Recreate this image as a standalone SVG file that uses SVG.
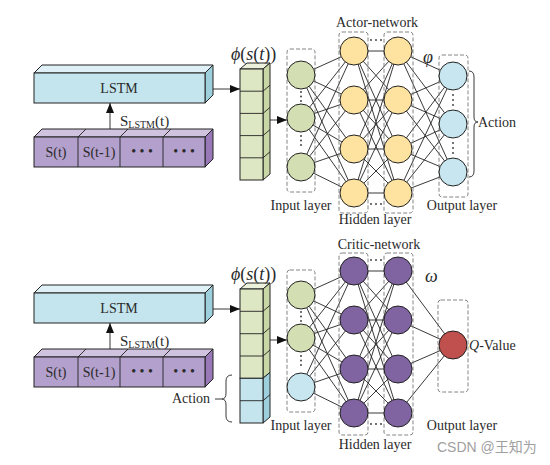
<svg xmlns="http://www.w3.org/2000/svg" width="550" height="465" viewBox="0 0 550 465">
<defs>
<marker id="arr" markerWidth="10" markerHeight="8" refX="10" refY="4" orient="auto" markerUnits="userSpaceOnUse">
<path d="M0,0 L10,4 L0,8 Z" fill="#111"/>
</marker>
<style>
text{font-family:"Liberation Serif","Times New Roman",serif;fill:#2a2a2a}
.lbl{font-size:14px}
.edge{stroke:#222;stroke-width:0.9;fill:none}
.dash{fill:none;stroke:#777;stroke-width:0.9;stroke-dasharray:4,2}
.bx{stroke:#222;stroke-width:1}
.n{stroke:#222;stroke-width:1}
.g{fill:#D3DFB3}.y{fill:#FEE3A0}.b{fill:#C7E6EF}.p{fill:#8064A2}.r{fill:#C0504D}
.dot{fill:#333}
</style>
</defs>

<!-- connectors -->
<g id="connectors">
<path class="edge" d="M205,89 L240,89" marker-end="url(#arr)"/>
<path class="edge" d="M270,120 L287,120" marker-end="url(#arr)"/>
<path class="edge" d="M110,129 L110,103" marker-end="url(#arr)"/>
<path class="edge" d="M205,309 L240,309" marker-end="url(#arr)"/>
<path class="edge" d="M270,340 L287,340" marker-end="url(#arr)"/>
<path class="edge" d="M110,349 L110,323" marker-end="url(#arr)"/>
<!-- actor: input -> hidden1 -->
<path class="edge" d="M301,75L354,51M301,75L354,100M301,75L354,149M301,75L354,193M301,118L354,51M301,118L354,100M301,118L354,149M301,118L354,193M301,167L354,51M301,167L354,100M301,167L354,149M301,167L354,193"/>
<!-- actor: hidden1 -> hidden2 -->
<path class="edge" d="M354,51L398,51M354,51L398,100M354,51L398,149M354,51L398,193M354,100L398,51M354,100L398,100M354,100L398,149M354,100L398,193M354,149L398,51M354,149L398,100M354,149L398,149M354,149L398,193M354,193L398,51M354,193L398,100M354,193L398,149M354,193L398,193"/>
<!-- actor: hidden2 -> output -->
<path class="edge" d="M398,51L453,76M398,51L453,124M398,51L453,172M398,100L453,76M398,100L453,124M398,100L453,172M398,149L453,76M398,149L453,124M398,149L453,172M398,193L453,76M398,193L453,124M398,193L453,172"/>
<!-- critic: input -> hidden1 -->
<path class="edge" d="M301,295L354,271M301,295L354,320M301,295L354,369M301,295L354,413M301,338L354,271M301,338L354,320M301,338L354,369M301,338L354,413M301,387L354,271M301,387L354,320M301,387L354,369M301,387L354,413"/>
<!-- critic: hidden1 -> hidden2 -->
<path class="edge" d="M354,271L398,271M354,271L398,320M354,271L398,369M354,271L398,413M354,320L398,271M354,320L398,320M354,320L398,369M354,320L398,413M354,369L398,271M354,369L398,320M354,369L398,369M354,369L398,413M354,413L398,271M354,413L398,320M354,413L398,369M354,413L398,413"/>
<!-- critic: hidden2 -> output -->
<path class="edge" d="M398,271L453,345M398,320L453,345M398,369L453,345M398,413L453,345"/>
</g>

<!-- top LSTM block -->
<g id="lstm-actor">
<polygon class="bx" points="34,73 42,65 213,65 205,73" fill="#DFF1F6"/>
<polygon class="bx" points="205,73 213,65 213,95 205,103" fill="#9ECFDC"/>
<rect class="bx" x="34" y="73" width="171" height="30" fill="#C5E5EE"/>
<text class="lbl" x="119" y="93" text-anchor="middle">LSTM</text>
</g>
<g id="seq-actor">
<polygon class="bx" points="34,137 42,129 213,129 205,137" fill="#CFC3E0"/>
<polygon class="bx" points="205,137 213,129 213,159 205,167" fill="#9878B6"/>
<rect class="bx" x="34" y="137" width="171" height="30" fill="#B3A0CC"/>
<path class="edge" d="M78,137V167M120,137V167M163,137V167M78,137L86,129M120,137L128,129M163,137L171,129"/>
<text class="lbl" x="56" y="157" text-anchor="middle">S(t)</text>
<text class="lbl" x="99" y="157" text-anchor="middle">S(t-1)</text>
<text class="lbl" x="142" y="156" text-anchor="middle">• • •</text>
<text class="lbl" x="184" y="156" text-anchor="middle">• • •</text>
<text x="120" y="126" font-size="15">S<tspan font-size="10" dy="2">LSTM</tspan><tspan dy="-2">(t)</tspan></text>
</g>
<g id="phi-actor">
<polygon class="bx" points="240,69 247,63 270,63 263,69" fill="#ECF1DC"/>
<polygon class="bx" points="263,69 270,63 270,174 263,180" fill="#C9D7A6"/>
<rect class="bx" x="240" y="69" width="23" height="111" fill="#DEE7C4"/>
<path class="edge" d="M240,91.2H263L270,85.2M240,113.4H263L270,107.4M240,135.6H263L270,129.6M240,157.8H263L270,151.8"/>
<text x="231" y="60" font-size="18"><tspan font-style="italic">ϕ</tspan>(<tspan font-style="italic">s</tspan>(<tspan font-style="italic">t</tspan>))</text>
</g>

<!-- actor network -->
<g id="actor-input">
<rect class="dash" x="287" y="49" width="28" height="143" rx="3"/>
<circle class="n g" cx="301" cy="75" r="14"/>
<circle class="n g" cx="301" cy="118" r="14"/>
<circle class="n g" cx="301" cy="167" r="14"/>
<circle class="dot" cx="301" cy="92" r="0.9"/><circle class="dot" cx="301" cy="96.5" r="0.9"/><circle class="dot" cx="301" cy="101" r="0.9"/>
<circle class="dot" cx="301" cy="136" r="0.9"/><circle class="dot" cx="301" cy="140.5" r="0.9"/><circle class="dot" cx="301" cy="145" r="0.9"/>
<text class="lbl" x="301" y="210" text-anchor="middle">Input layer</text>
</g>
<g id="actor-hidden1">
<rect class="dash" x="339" y="32" width="29" height="181" rx="3"/>
<circle class="n y" cx="354" cy="51" r="14"/>
<circle class="n y" cx="354" cy="100" r="14"/>
<circle class="n y" cx="354" cy="149" r="14"/>
<circle class="n y" cx="354" cy="193" r="14"/>
</g>
<g id="actor-hidden2">
<rect class="dash" x="384" y="32" width="29" height="181" rx="3"/>
<circle class="n y" cx="398" cy="51" r="14"/>
<circle class="n y" cx="398" cy="100" r="14"/>
<circle class="n y" cx="398" cy="149" r="14"/>
<circle class="n y" cx="398" cy="193" r="14"/>
<circle class="dot" cx="371" cy="40" r="0.9"/><circle class="dot" cx="376" cy="40" r="0.9"/><circle class="dot" cx="381" cy="40" r="0.9"/>
<circle class="dot" cx="371" cy="204" r="0.9"/><circle class="dot" cx="376" cy="204" r="0.9"/><circle class="dot" cx="381" cy="204" r="0.9"/>
<text class="lbl" x="377" y="27" text-anchor="middle">Actor-network</text>
<text class="lbl" x="375" y="224" text-anchor="middle">Hidden layer</text>
</g>
<g id="actor-output">
<rect class="dash" x="439" y="55" width="29" height="142" rx="3"/>
<circle class="n b" cx="453" cy="76" r="14"/>
<circle class="n b" cx="453" cy="124" r="14"/>
<circle class="n b" cx="453" cy="172" r="14"/>
<circle class="dot" cx="453" cy="95" r="0.9"/><circle class="dot" cx="453" cy="100" r="0.9"/><circle class="dot" cx="453" cy="105" r="0.9"/>
<circle class="dot" cx="453" cy="143" r="0.9"/><circle class="dot" cx="453" cy="148" r="0.9"/><circle class="dot" cx="453" cy="153" r="0.9"/>
<path class="edge" d="M469,71 Q474,71 474,77 L474,117 Q474,122 478,122 Q474,122 474,127 L474,171 Q474,177 469,177"/>
<text class="lbl" x="478" y="127">Action</text>
<text x="423" y="63" font-size="18" font-style="italic">φ</text>
<text class="lbl" x="462" y="210" text-anchor="middle">Output layer</text>
</g>

<!-- bottom LSTM block -->
<g id="lstm-critic">
<polygon class="bx" points="34,293 42,285 213,285 205,293" fill="#DFF1F6"/>
<polygon class="bx" points="205,293 213,285 213,315 205,323" fill="#9ECFDC"/>
<rect class="bx" x="34" y="293" width="171" height="30" fill="#C5E5EE"/>
<text class="lbl" x="119" y="313" text-anchor="middle">LSTM</text>
</g>
<g id="seq-critic">
<polygon class="bx" points="34,357 42,349 213,349 205,357" fill="#CFC3E0"/>
<polygon class="bx" points="205,357 213,349 213,379 205,387" fill="#9878B6"/>
<rect class="bx" x="34" y="357" width="171" height="30" fill="#B3A0CC"/>
<path class="edge" d="M78,357V387M120,357V387M163,357V387M78,357L86,349M120,357L128,349M163,357L171,349"/>
<text class="lbl" x="56" y="377" text-anchor="middle">S(t)</text>
<text class="lbl" x="99" y="377" text-anchor="middle">S(t-1)</text>
<text class="lbl" x="142" y="376" text-anchor="middle">• • •</text>
<text class="lbl" x="184" y="376" text-anchor="middle">• • •</text>
<text x="120" y="346" font-size="15">S<tspan font-size="10" dy="2">LSTM</tspan><tspan dy="-2">(t)</tspan></text>
</g>
<g id="phi-critic">
<polygon class="bx" points="240,289 247,283 270,283 263,289" fill="#ECF1DC"/>
<polygon class="bx" points="263,289 270,283 270,372.3 263,378.3" fill="#C9D7A6"/>
<polygon class="bx" points="263,378.3 270,372.3 270,417 263,423" fill="#9ECFDC"/>
<rect class="bx" x="240" y="289" width="23" height="89.3" fill="#DEE7C4"/>
<rect class="bx" x="240" y="378.3" width="23" height="44.7" fill="#C5E5EE"/>
<path class="edge" d="M240,311.3H263L270,305.3M240,333.7H263L270,327.7M240,356H263L270,350M240,400.7H263L270,394.7"/>
<text x="231" y="280" font-size="18"><tspan font-style="italic">ϕ</tspan>(<tspan font-style="italic">s</tspan>(<tspan font-style="italic">t</tspan>))</text>
<path class="edge" d="M232,375 Q226,375 226,381 L226,393 Q226,399 222,399 Q226,399 226,405 L226,416 Q226,422 232,422"/>
<path class="edge" d="M215,399H222"/>
<text class="lbl" x="172" y="403">Action</text>
</g>

<!-- critic network -->
<g id="critic-input">
<rect class="dash" x="287" y="270" width="28" height="142" rx="3"/>
<circle class="n g" cx="301" cy="295" r="14"/>
<circle class="n g" cx="301" cy="338" r="14"/>
<circle class="n b" cx="301" cy="387" r="14"/>
<circle class="dot" cx="301" cy="312" r="0.9"/><circle class="dot" cx="301" cy="316.5" r="0.9"/><circle class="dot" cx="301" cy="321" r="0.9"/>
<circle class="dot" cx="301" cy="356" r="0.9"/><circle class="dot" cx="301" cy="360.5" r="0.9"/><circle class="dot" cx="301" cy="365" r="0.9"/>
<text class="lbl" x="301" y="430" text-anchor="middle">Input layer</text>
</g>
<g id="critic-hidden1">
<rect class="dash" x="339" y="253" width="29" height="182" rx="3"/>
<circle class="n p" cx="354" cy="271" r="14"/>
<circle class="n p" cx="354" cy="320" r="14"/>
<circle class="n p" cx="354" cy="369" r="14"/>
<circle class="n p" cx="354" cy="413" r="14"/>
</g>
<g id="critic-hidden2">
<rect class="dash" x="384" y="253" width="29" height="182" rx="3"/>
<circle class="n p" cx="398" cy="271" r="14"/>
<circle class="n p" cx="398" cy="320" r="14"/>
<circle class="n p" cx="398" cy="369" r="14"/>
<circle class="n p" cx="398" cy="413" r="14"/>
<circle class="dot" cx="371" cy="260" r="0.9"/><circle class="dot" cx="376" cy="260" r="0.9"/><circle class="dot" cx="381" cy="260" r="0.9"/>
<circle class="dot" cx="371" cy="424" r="0.9"/><circle class="dot" cx="376" cy="424" r="0.9"/><circle class="dot" cx="381" cy="424" r="0.9"/>
<text class="lbl" x="379" y="249" text-anchor="middle">Critic-network</text>
<text class="lbl" x="375" y="449" text-anchor="middle">Hidden layer</text>
</g>
<g id="critic-output">
<rect class="dash" x="438" y="300" width="30" height="92" rx="3"/>
<circle class="n r" cx="453" cy="345" r="14"/>
<text class="lbl" x="469" y="350"><tspan font-style="italic">Q</tspan>-Value</text>
<text x="425" y="282" font-size="18" font-style="italic">ω</text>
<text class="lbl" x="462" y="430" text-anchor="middle">Output layer</text>
</g>
<text x="437" y="452" font-size="14" style="font-family:'Liberation Sans','Noto Sans CJK SC',sans-serif;fill:#A0A0A0">CSDN @王知为</text>
</svg>
